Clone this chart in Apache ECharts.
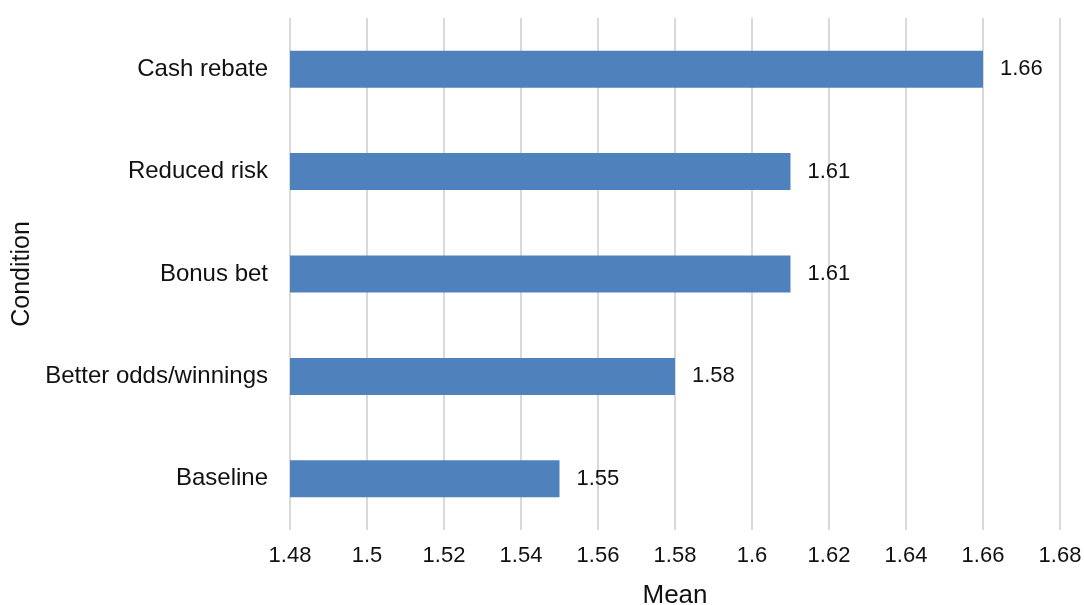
<!DOCTYPE html>
<html>
<head>
<meta charset="utf-8">
<script src="https://cdn.jsdelivr.net/npm/echarts@6/dist/echarts.min.js"></script>
<style>
html,body{margin:0;padding:0;background:#fff;}
#chart{width:1084px;height:605px;}
</style>
</head>
<body>
<div id="chart"></div>
<script>
const categories = ['Baseline', 'Better odds/winnings', 'Bonus bet', 'Reduced risk', 'Cash rebate'];
const values = [1.55, 1.58, 1.61, 1.61, 1.66];
const xMin = 1.48, xMax = 1.68, xStep = 0.02;

const chart = echarts.init(document.getElementById('chart'));
const font = 'Liberation Sans, Arial, sans-serif';
chart.setOption({
  animation: false,
  backgroundColor: '#fff',
  grid: {left: 290, right: 24, top: 18, bottom: 75, containLabel: false, outerBoundsMode: 'none'},
  xAxis: {
    type: 'value', min: xMin, max: xMax, interval: xStep,
    name: 'Mean', nameLocation: 'middle', nameGap: 53,
    nameTextStyle: {fontFamily: font, fontSize: 26, color: '#111'},
    axisLine: {show: false}, axisTick: {show: false},
    axisLabel: {fontFamily: font, fontSize: 22, color: '#111', margin: 15,
      formatter: v => String(parseFloat(v.toFixed(2)))},
    splitLine: {show: true, lineStyle: {color: '#d9d9d9', width: 2}}
  },
  yAxis: {
    type: 'category', data: categories,
    name: 'Condition', nameLocation: 'middle', nameGap: 253, nameRotate: 90,
    nameTextStyle: {fontFamily: font, fontSize: 25, color: '#111'},
    axisLine: {show: false}, axisTick: {show: false},
    axisLabel: {fontFamily: font, fontSize: 24, color: '#111', margin: 22}
  },
  series: [{
    type: 'bar', data: values, barWidth: 37,
    itemStyle: {color: '#4f81bd'},
    label: {show: true, position: 'right', distance: 17, fontFamily: font, fontSize: 22, color: '#111',
      formatter: p => p.value.toFixed(2)}
  }]
});
</script>
</body>
</html>
